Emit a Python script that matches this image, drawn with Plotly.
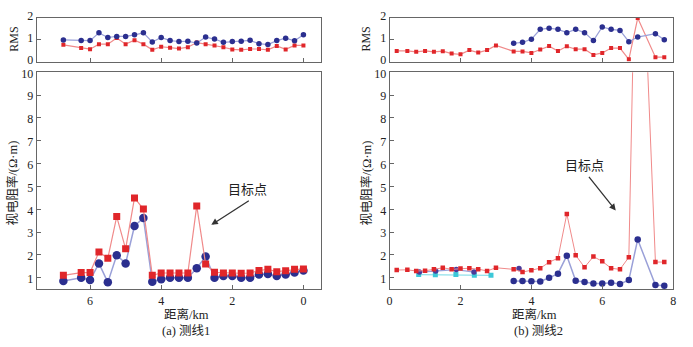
import plotly.graph_objects as go

# ---------------- data: survey line 1 (left) ----------------
x1 = [6.75, 6.25, 6.0, 5.75, 5.5, 5.25, 5.0, 4.75, 4.5, 4.25, 4.0, 3.75, 3.5, 3.25,
      3.0, 2.75, 2.5, 2.25, 2.0, 1.75, 1.5, 1.25, 1.0, 0.75, 0.5, 0.25, 0.0]
red1 = [1.11, 1.23, 1.23, 2.13, 1.86, 3.68, 2.27, 4.5, 4.01, 1.11, 1.21, 1.21, 1.21, 1.21,
        4.15, 1.6, 1.24, 1.21, 1.21, 1.2, 1.21, 1.32, 1.37, 1.27, 1.31, 1.37, 1.39]
blue1 = [0.86, 1.0, 0.9, 1.63, 0.8, 1.99, 1.63, 3.27, 3.62, 0.83, 0.94, 1.0, 1.0, 1.0,
         1.42, 1.93, 1.0, 1.08, 1.08, 1.0, 1.0, 1.14, 1.17, 1.08, 1.14, 1.23, 1.32]
rms_red1 = [0.77, 0.62, 0.57, 0.8, 0.8, 1.08, 0.8, 0.98, 0.8, 0.54, 0.68, 0.64, 0.6, 0.66,
            0.87, 0.8, 0.74, 0.66, 0.56, 0.54, 0.58, 0.58, 0.54, 0.72, 0.56, 0.74, 0.74]
rms_blue1 = [0.99, 0.96, 0.96, 1.31, 1.1, 1.15, 1.15, 1.22, 1.31, 0.9, 1.1, 0.96, 0.92, 0.93,
             0.85, 1.12, 1.03, 0.88, 0.92, 0.93, 0.97, 0.82, 0.78, 0.96, 1.07, 0.95, 1.22]

# ---------------- data: survey line 2 (right) ----------------
x2r = [0.2, 0.5, 0.75, 1.0, 1.25, 1.5, 1.75, 2.0, 2.25, 2.5, 2.75, 3.0, 3.5, 3.75, 4.0,
       4.25, 4.5, 4.75, 5.0, 5.25, 5.5, 5.75, 6.0, 6.25, 6.5, 6.75, 7.0, 7.5, 7.75]
red2 = [1.34, 1.35, 1.3, 1.31, 1.37, 1.44, 1.37, 1.41, 1.42, 1.38, 1.3, 1.44, 1.37, 1.25, 1.33,
        1.42, 1.68, 1.86, 3.8, 1.99, 1.46, 1.93, 1.72, 1.42, 1.37, 1.9, 21.0, 1.69, 1.69]
rms_red2 = [0.49, 0.49, 0.45, 0.49, 0.45, 0.48, 0.37, 0.34, 0.53, 0.42, 0.53, 0.74, 0.47, 0.47, 0.4,
            0.56, 0.71, 0.49, 0.7, 0.57, 0.57, 0.31, 0.4, 0.62, 0.62, 0.11, 1.98, 0.21, 0.21]
x2b = [3.5, 3.75, 4.0, 4.25, 4.5, 4.75, 5.0, 5.25, 5.5, 5.75, 6.0, 6.25, 6.5, 6.75, 7.0, 7.5, 7.75]
blue2 = [0.86, 0.86, 0.85, 0.84, 1.0, 1.18, 1.97, 0.87, 0.82, 0.75, 0.75, 0.78, 0.73, 0.9, 2.68, 0.68, 0.65]
rms_blue2 = [0.84, 0.88, 1.02, 1.47, 1.52, 1.47, 1.32, 1.47, 1.32, 0.96, 1.58, 1.47, 1.42, 0.91, 1.12, 1.27, 1.0]
x2p = [0.84, 1.3, 1.88, 2.38, None, 3.65]
purple2 = [1.25, 1.3, 1.36, 1.25, None, 1.41]
x2c = [0.82, 1.29, 1.87, 2.39, 2.86]
cyan2 = [1.14, 1.13, 1.14, 1.11, 1.11]

y_ticks_main = [1, 2, 3, 4, 5, 6, 7, 8, 9, 10]
y_ticks_rms = [0, 1, 2]
x_ticks1 = [0, 2, 4, 6]
x_ticks2 = [0, 2, 4, 6, 8]

RED_M = "#e0262a"
RED_L = "#f08a8a"
BLUE_M = "#2b2f8f"
BLUE_L = "#9aa0d8"
CYAN_M = "#3cc8d8"
CYAN_L = "#8fe0ea"
SERIF = "Liberation Serif, Noto Sans CJK SC, serif"

fig = go.Figure()

def line_trace(x, y, xa, ya, mc, lc, sym, size, lw=1.2):
    return go.Scatter(x=x, y=y, xaxis=xa, yaxis=ya, mode="lines+markers",
                      line=dict(color=lc, width=lw),
                      marker=dict(color=mc, symbol=sym, size=size, line=dict(width=0)),
                      showlegend=False, hoverinfo="skip")

# left RMS
fig.add_trace(line_trace(x1, rms_red1, "x", "y", RED_M, RED_L, "square", 4))
fig.add_trace(line_trace(x1, rms_blue1, "x", "y", BLUE_M, BLUE_L, "circle", 5.5))
# left main
fig.add_trace(line_trace(x1, blue1, "x2", "y2", BLUE_M, BLUE_L, "circle", 8.5, 1.5))
fig.add_trace(line_trace(x1, red1, "x2", "y2", RED_M, RED_L, "square", 7, 1.2))
# right RMS
fig.add_trace(line_trace(x2r, rms_red2, "x3", "y3", RED_M, RED_L, "square", 4))
fig.add_trace(line_trace(x2b, rms_blue2, "x3", "y3", BLUE_M, BLUE_L, "circle", 5.5))
# right main
fig.add_trace(line_trace(x2c, cyan2, "x4", "y4", CYAN_M, CYAN_L, "square", 5))
fig.add_trace(line_trace(x2p, purple2, "x4", "y4", "#4a3a9a", BLUE_L, "circle", 5.5))
fig.add_trace(line_trace(x2b, blue2, "x4", "y4", BLUE_M, BLUE_L, "circle", 6.5, 1.5))
fig.add_trace(line_trace(x2r, red2, "x4", "y4", RED_M, RED_L, "square", 4.5, 1.0))

LX = [34 / 693, 321 / 693]
RX = [390 / 693, 676 / 693]
RMS_Y = [1 - 55 / 347, 1 - 9 / 347]
MAIN_Y = [1 - 292 / 347, 1 - 66 / 347]

ax_common = dict(showline=True, mirror=True, linecolor="#666", linewidth=1,
                 ticks="inside", ticklen=4, tickcolor="#666", showgrid=False,
                 zeroline=False, tickfont=dict(family=SERIF, size=12, color="#222"))

fig.update_layout(
    width=693, height=347, margin=dict(l=0, r=0, t=0, b=0),
    paper_bgcolor="white", plot_bgcolor="white",
    xaxis=dict(domain=LX, anchor="y", range=[7.5, -0.5], tickvals=x_ticks1,
               showticklabels=False, **ax_common),
    yaxis=dict(domain=RMS_Y, anchor="x", range=[0, 2], tickvals=y_ticks_rms,
               ticklabelshift=-2, **ax_common),
    xaxis2=dict(domain=LX, anchor="y2", range=[7.5, -0.5], tickvals=x_ticks1, **ax_common),
    yaxis2=dict(domain=MAIN_Y, anchor="x2", range=[0.5, 10], tickvals=y_ticks_main,
                ticklabelshift=1, **ax_common),
    xaxis3=dict(domain=RX, anchor="y3", range=[0, 8], tickvals=x_ticks2,
                showticklabels=False, **ax_common),
    yaxis3=dict(domain=RMS_Y, anchor="x3", range=[0, 2], tickvals=y_ticks_rms,
                ticklabelshift=-2, **ax_common),
    xaxis4=dict(domain=RX, anchor="y4", range=[0, 8], tickvals=x_ticks2, **ax_common),
    yaxis4=dict(domain=MAIN_Y, anchor="x4", range=[0.5, 10], tickvals=y_ticks_main,
                ticklabelshift=1, **ax_common),
)

tf = dict(family=SERIF, size=13, color="#222")
ann = []
def paper_text(text, px, py, angle=0, size=13):
    ann.append(dict(text=text, x=px / 693, y=1 - py / 347, xref="paper", yref="paper",
                    showarrow=False, textangle=angle, font=dict(family=SERIF, size=size, color="#222"),
                    xanchor="center", yanchor="middle"))

paper_text("RMS", 11, 31, -90, 12)
paper_text("RMS", 366, 31, -90, 12)
paper_text("视电阻率/(Ω·m)", 10, 181, -90, 12.5)
paper_text("视电阻率/(Ω·m)", 367, 181, -90, 12.5)
paper_text("距离/km", 185, 318, 0, 12.5)
paper_text("距离/km", 536, 318, 0, 12.5)
paper_text("(a) 测线1", 185, 336, 0, 12.5)
paper_text("(b) 测线2", 540, 336, 0, 12.5)

# target point annotations
ann.append(dict(text="目标点", x=1.56, y=4.87, xref="x2", yref="y2", showarrow=False,
                font=tf))
ann.append(dict(text="", x=2.59, y=3.32, xref="x2", yref="y2", showarrow=True,
                ax=39, ay=-25, arrowhead=2, arrowsize=1, arrowwidth=1.3, arrowcolor="#333"))
ann.append(dict(text="目标点", x=5.51, y=5.92, xref="x4", yref="y4", showarrow=False,
                font=tf))
ann.append(dict(text="", x=6.38, y=3.95, xref="x4", yref="y4", showarrow=True,
                ax=-28, ay=-35, arrowhead=2, arrowsize=1, arrowwidth=1.3, arrowcolor="#333"))

fig.update_layout(annotations=ann)
fig.write_html("out.html")
